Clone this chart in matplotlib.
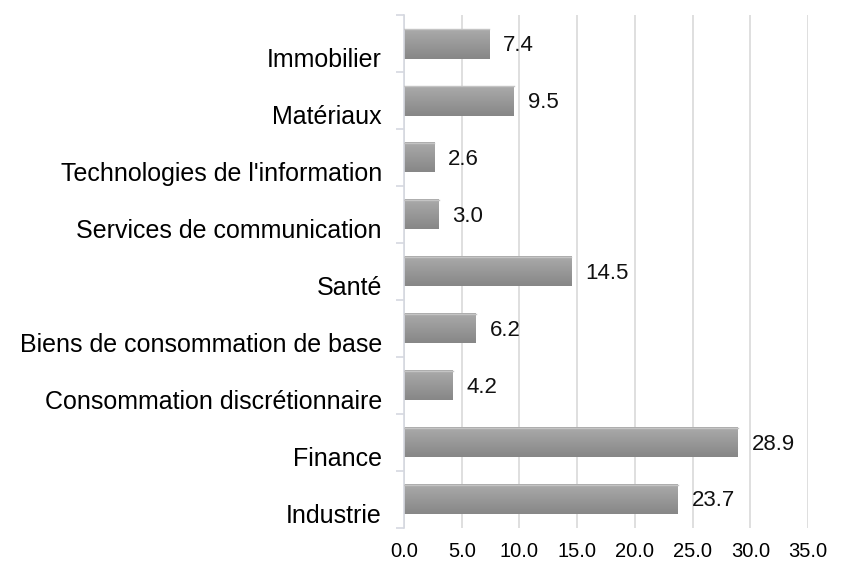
import numpy as np
import matplotlib
matplotlib.use("Agg")
import matplotlib.pyplot as plt
import matplotlib.transforms as mtransforms

plt.rcParams["font.family"] = ["Liberation Sans", "DejaVu Sans"]

# data (bottom to top)
sectors = [
    "Industrie",
    "Finance",
    "Consommation discrétionnaire",
    "Biens de consommation de base",
    "Santé",
    "Services de communication",
    "Technologies de l'information",
    "Matériaux",
    "Immobilier",
]
values = [23.7, 28.9, 4.2, 6.2, 14.5, 3.0, 2.6, 9.5, 7.4]
xticks = [0, 5, 10, 15, 20, 25, 30, 35]

fig = plt.figure(figsize=(8.47, 5.63), dpi=100)
ax = fig.add_axes([0.477, 0.062, 0.477, 0.911])

y = np.arange(len(sectors))
bar_h = 0.52
grad = np.linspace(0, 1, 50).reshape(-1, 1)
cmap = matplotlib.colors.LinearSegmentedColormap.from_list("g", ["#aaaaaa", "#878787"])

bars = ax.barh(y, values, height=bar_h, color="none", edgecolor="none", zorder=2)
for b in bars:
    x0, y0 = b.get_x(), b.get_y()
    w, h = b.get_width(), b.get_height()
    # top of bar is light, bottom darker
    ax.imshow(grad, cmap=cmap, aspect="auto", extent=[x0, x0 + w, y0, y0 + h],
              origin="upper", zorder=2, interpolation="bilinear")
    ax.plot([x0, x0 + w], [y0 + h, y0 + h], color="#c4c4c4", lw=1, zorder=3)

for yi, v in zip(y, values):
    ax.annotate(f"{v:.1f}", (v, yi), xytext=(10, -1), textcoords="offset points",
                ha="left", va="center", fontsize=16, color="#111111")

ax.set_xlim(0, 35)
ax.set_ylim(-0.5, len(sectors) - 0.5)
ax.set_xticks(xticks)
ax.set_xticklabels([f"{t:.1f}" for t in xticks], fontsize=14.5)
ax.tick_params(axis="x", length=0, pad=10)
ax.grid(axis="x", color="#d9d9d9", lw=1.2, zorder=0)
ax.set_axisbelow(True)

ax.set_yticks(y)
ax.set_yticklabels(sectors, fontsize=18)
ax.tick_params(axis="y", length=0, pad=16)
offset = mtransforms.ScaledTranslation(0, -14 / 100, fig.dpi_scale_trans)
for lbl in ax.get_yticklabels():
    lbl.set_transform(lbl.get_transform() + offset)
ax.set_yticks(np.arange(-0.5, len(sectors), 1), minor=True)
ax.tick_params(axis="y", which="minor", length=6, color="#d5d8e0", width=1.2)

for s in ["top", "right", "bottom"]:
    ax.spines[s].set_visible(False)
ax.spines["left"].set_color("#d5d8e0")
ax.spines["left"].set_linewidth(1.2)

fig.savefig("out.png", dpi=100)
